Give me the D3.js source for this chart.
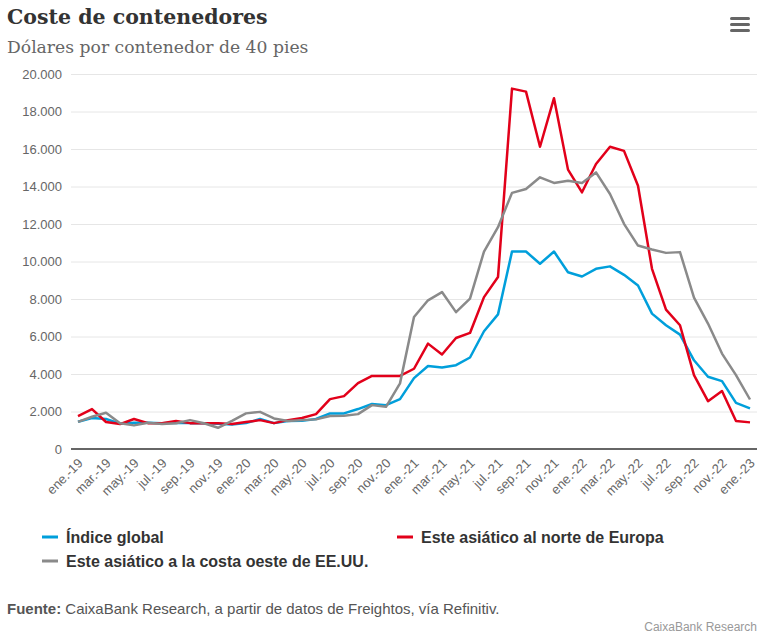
<!DOCTYPE html>
<html><head><meta charset="utf-8">
<script src="https://cdn.jsdelivr.net/npm/d3@7/dist/d3.min.js"></script>
<style>
body{margin:0;background:#fff;}
svg{display:block;}
</style></head>
<body>
<svg id="chart" width="764" height="635"></svg>
<script>
const months = ["ene.","feb.","mar.","abr.","may.","jun.","jul.","ago.","sep.","oct.","nov.","dic."];
const categories = [];
for (let yr = 19; yr <= 23; yr++) for (let m = 0; m < 12; m++) { if (yr === 23 && m > 0) break; categories.push(months[m] + "-" + yr); }

const indiceGlobal = [1450,1650,1600,1350,1400,1400,1380,1400,1380,1380,1350,1300,
  1380,1600,1380,1490,1500,1600,1900,1900,2130,2400,2340,2660,
  3780,4430,4350,4470,4880,6280,7180,10530,10530,9880,10530,9430,
  9200,9610,9740,9290,8720,7220,6600,6100,4730,3850,3620,2460,2170];
const asiaEuropa = [1755,2130,1440,1330,1600,1380,1380,1490,1380,1380,1380,1330,
  1440,1540,1380,1540,1650,1860,2660,2820,3510,3900,3900,3900,
  4280,5620,5040,5920,6190,8100,9170,19220,19060,16120,18710,14900,
  13690,15200,16120,15900,14040,9610,7430,6600,3940,2550,3090,1490,1420];
const asiaEEUU = [1450,1720,1930,1370,1260,1400,1330,1370,1540,1370,1130,1500,
  1900,1980,1630,1490,1540,1580,1760,1770,1860,2340,2250,3500,
  7040,7930,8370,7300,8020,10530,11830,13660,13870,14490,14190,14310,
  14190,14750,13600,12010,10850,10640,10460,10500,8070,6690,5090,3940,2640];
const yTicks = [0,2000,4000,6000,8000,10000,12000,14000,16000,18000,20000];

const series = [
  {name:"Índice global", values:indiceGlobal, color:"#009fdb"},
  {name:"Este asiático al norte de Europa", values:asiaEuropa, color:"#e2001a"},
  {name:"Este asiático a la costa oeste de EE.UU.", values:asiaEEUU, color:"#8a8a8a"}
];

const svg = d3.select("#chart");
const pL = 71, pR = 757, pT = 74, pB = 449;

const x = d3.scalePoint().domain(categories).range([pL, pR]).padding(0.5);
const y = d3.scaleLinear().domain([0, 20000]).range([pB, pT]);
const fmt = v => d3.format(",")(v).replace(/,/g, ".");

// title
svg.append("text").attr("x", 7).attr("y", 24)
  .style("font-family", "'DejaVu Serif', Georgia, serif").style("font-weight", "bold")
  .style("font-size", "20.5px").attr("fill", "#333").text("Coste de contenedores");
svg.append("text").attr("x", 7).attr("y", 53)
  .style("font-family", "'DejaVu Serif', Georgia, serif")
  .style("font-size", "17.2px").attr("fill", "#666").text("Dólares por contenedor de 40 pies");

// menu icon
[0,1,2].forEach(i => svg.append("rect").attr("x", 730).attr("y", 17 + i*6).attr("width", 20).attr("height", 3)
  .attr("rx", 1.5).attr("fill", "#666"));

// grid + y axis
const yAxis = d3.axisLeft(y).tickValues(yTicks).tickFormat(fmt).tickSize(-(pR-pL)).tickPadding(9);
const gy = svg.append("g").attr("transform", `translate(${pL},0)`).call(yAxis);
gy.select(".domain").remove();
gy.selectAll(".tick line").attr("stroke", "#e6e6e6").attr("stroke-width", 1);
gy.selectAll(".tick text").attr("fill", "#666").style("font-family", "'Liberation Sans', Arial, sans-serif").style("font-size", "13px");

// x axis
const xAxis = d3.axisBottom(x).tickValues(categories.filter((d,i) => i % 2 === 0)).tickSize(0).tickPadding(0);
const gx = svg.append("g").attr("transform", `translate(0,${pB})`).call(xAxis);
gx.select(".domain").attr("stroke", "#666").attr("stroke-width", 2).attr("d", `M${pL},0H${pR}`);
gx.selectAll(".tick text").attr("fill", "#666").style("font-family", "'Liberation Sans', Arial, sans-serif").style("font-size", "13px")
  .attr("text-anchor", "end").attr("dy", null).attr("y", 0)
  .attr("transform", "translate(5,15) rotate(-45)");

// lines
const line = d3.line().x((d,i) => x(categories[i])).y(d => y(d));
series.forEach(s => {
  svg.append("path").datum(s.values).attr("d", line).attr("fill", "none")
    .attr("stroke", s.color).attr("stroke-width", 2.5).attr("stroke-linejoin", "round");
});

// legend
const legendPos = [{x:42, y:537},{x:397, y:537},{x:42, y:561}];
series.forEach((s,i) => {
  const g = svg.append("g").attr("transform", `translate(${legendPos[i].x},${legendPos[i].y})`);
  g.append("rect").attr("x", 0).attr("y", -1.5).attr("width", 16).attr("height", 3).attr("fill", s.color);
  g.append("text").attr("x", 24).attr("y", 5.5).attr("fill", "#333")
    .style("font-family", "'Liberation Sans', Arial, sans-serif").style("font-weight", "bold").style("font-size", "16px")
    .text(s.name);
});

// source
const src = svg.append("text").attr("x", 7).attr("y", 614).attr("fill", "#555")
  .style("font-family", "'Liberation Sans', Arial, sans-serif").style("font-size", "15px");
src.append("tspan").style("font-weight", "bold").text("Fuente:");
src.append("tspan").text(" CaixaBank Research, a partir de datos de Freightos, vía Refinitiv.");

svg.append("text").attr("x", 757).attr("y", 631).attr("text-anchor", "end").attr("fill", "#999")
  .style("font-family", "'Liberation Sans', Arial, sans-serif").style("font-size", "12px").text("CaixaBank Research");
</script>
</body></html>
